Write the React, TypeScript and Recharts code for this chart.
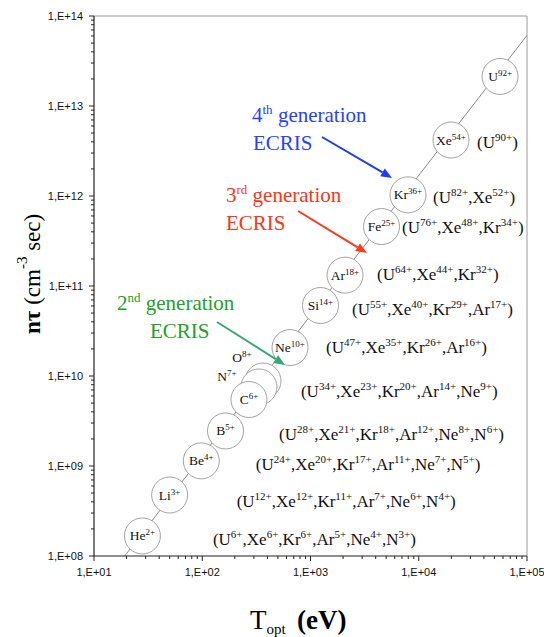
import React from 'react'
import { ComposedChart, XAxis, YAxis, Line, Scatter, ReferenceLine } from 'recharts'

// ─── Data ─────────────────────────────────────────────────────────────────────

const ionNames = ['He', 'Li', 'Be', 'B', 'O', 'N', 'C', 'Ne', 'Si', 'Ar', 'Fe', 'Kr', 'Xe', 'U']
const ionCharges = ['2+', '3+', '4+', '5+', '8+', '7+', '6+', '10+', '14+', '18+', '25+', '36+', '54+', '92+']
const ionTopt = [28, 50, 98, 164, 364, 334, 270, 647, 1237, 2084, 4529, 7955, 19860, 56360]
const ionNtau = [1.67e8, 4.76e8, 1.14e9, 2.45e9, 8.8e9, 7.55e9, 5.48e9, 2.07e10, 6.07e10, 1.32e11, 4.58e11, 1.03e12, 4.19e12, 2.13e13]

// equivalent charge states reachable at the same T_opt / n·tau
const ionEquivalents = [
  'U6+ Xe6+ Kr6+ Ar5+ Ne4+ N3+',
  'U12+ Xe12+ Kr11+ Ar7+ Ne6+ N4+',
  'U24+ Xe20+ Kr17+ Ar11+ Ne7+ N5+',
  'U28+ Xe21+ Kr18+ Ar12+ Ne8+ N6+',
  '',
  '',
  'U34+ Xe23+ Kr20+ Ar14+ Ne9+',
  'U47+ Xe35+ Kr26+ Ar16+',
  'U55+ Xe40+ Kr29+ Ar17+',
  'U64+ Xe44+ Kr32+',
  'U76+ Xe48+ Kr34+',
  'U82+ Xe52+',
  'U90+',
  '',
]

// straight n·tau ~ T^1.5 guide line
const guideTopt = [19.2, 1e5]
const guideNtau = [1e8, 6.1e13]

const xTickValues = [1e1, 1e2, 1e3, 1e4, 1e5]
const xTickLabels = ['1,E+01', '1,E+02', '1,E+03', '1,E+04', '1,E+05']
const yTickValues = [1e8, 1e9, 1e10, 1e11, 1e12, 1e13, 1e14]
const yTickLabels = ['1,E+08', '1,E+09', '1,E+10', '1,E+11', '1,E+12', '1,E+13', '1,E+14']

// ─── Layout (label placement, px) ─────────────────────────────────────────────

// [dx, dy] of the ion name relative to circle centre (O and N sit outside)
const ionLabelAt: Record<string, [number, number]> = {
  O: [-21, -19],
  N: [-32, -6],
}
// [dx, dy] of the equivalents list start/baseline relative to circle centre
const equivAt = [
  [70.5, 9], [67, 12], [54.5, 9], [53.5, 9], [0, 0], [0, 0], [52, -2.5],
  [36, 5.5], [31.5, 9.5], [32, 5], [20.5, 6.5], [25, 8], [26, 8], [0, 0],
]

const SERIF = '"Liberation Serif", "Times New Roman", Times, serif'
const SANS = '"Liberation Sans", Arial, sans-serif'

// ─── Helpers ──────────────────────────────────────────────────────────────────

const ionData = ionNames.map((ion, i) => ({
  ion,
  charge: ionCharges[i],
  T: ionTopt[i],
  nt: ionNtau[i],
  equiv: ionEquivalents[i]
    ? ionEquivalents[i].split(' ').map((s) => {
        const m = s.match(/^([A-Z][a-z]?)(\d+\+)$/)
        return m ? [m[1], m[2]] : [s, '']
      })
    : [],
  idx: i,
}))

const guideData = guideTopt.map((T, i) => ({ T, nt: guideNtau[i] }))

function withMinors(majors: number[]) {
  const out: number[] = []
  majors.forEach((d, i) => {
    out.push(d)
    if (i < majors.length - 1) for (let m = 2; m <= 9; m++) out.push(m * d)
  })
  return out
}

const xTicks = withMinors(xTickValues)
const yTicks = withMinors(yTickValues)

function majorLabel(v: number, values: number[], labels: string[]) {
  const i = values.findIndex((t) => Math.abs(t - v) / t < 1e-6)
  return i >= 0 ? labels[i] : null
}

// ─── Ticks ────────────────────────────────────────────────────────────────────

function XTick({ x, y, payload }: any) {
  const label = majorLabel(payload.value, xTickValues, xTickLabels)
  return (
    <g>
      <line x1={x} x2={x} y1={y} y2={y + (label ? 5 : 3)} stroke="#222" strokeWidth={1} />
      {label && (
        <text x={x} y={y + 20} textAnchor="middle" fontFamily={SANS} fontSize={11} fill="#111">
          {label}
        </text>
      )}
    </g>
  )
}

function YTick({ x, y, payload }: any) {
  const label = majorLabel(payload.value, yTickValues, yTickLabels)
  return (
    <g>
      <line x1={x - (label ? 5 : 3)} x2={x} y1={y} y2={y} stroke="#222" strokeWidth={1} />
      {label && (
        <text x={x - 11} y={y + 4} textAnchor="end" fontFamily={SANS} fontSize={11} fill="#111">
          {label}
        </text>
      )}
    </g>
  )
}

// ─── Ion circle ───────────────────────────────────────────────────────────────

function IonMark(props: any) {
  const { cx, cy, payload } = props
  if (cx == null || cy == null) return null
  const at = ionLabelAt[payload.ion] ?? [0, 4.5]
  const [ex, ey] = equivAt[payload.idx]
  const equiv: string[][] = payload.equiv
  return (
    <g>
      <circle cx={cx} cy={cy} r={18} fill="#fff" stroke="#8c8c8c" strokeWidth={0.8} />
      <text x={cx + at[0]} y={cy + at[1]} textAnchor="middle" fontFamily={SERIF} fontSize={13.5} fill="#111">
        {payload.ion}
        <tspan fontSize={9} dy={-5}>{payload.charge}</tspan>
      </text>
      {equiv.length > 0 && (
        <text x={cx + ex} y={cy + ey} fontFamily={SERIF} fontSize={17} fill="#111">
          {'('}
          {equiv.map(([el, q], i) => (
            <React.Fragment key={i}>
              <tspan dy={i === 0 ? 0 : 7}>{(i > 0 ? ',' : '') + el}</tspan>
              <tspan fontSize={11} dy={-7}>{q}</tspan>
            </React.Fragment>
          ))}
          <tspan dy={7}>)</tspan>
        </text>
      )}
    </g>
  )
}

// ─── Annotations (ECRIS generations) ──────────────────────────────────────────

const ecrisNotes = [
  { gen: '4', sup: 'th', color: '#2442ff', arrow: '#1d3cf2', tx: 252, ty: 122, ex: 253, from: [322, 137], to: [392, 178] },
  { gen: '3', sup: 'rd', color: '#ff3418', arrow: '#ff3a1a', tx: 226, ty: 202, ex: 226, from: [298, 211], to: [367, 253] },
  { gen: '2', sup: 'nd', color: '#22a02a', arrow: '#35a878', tx: 117, ty: 310, ex: 150, from: [217, 322], to: [285, 365] },
]

function Arrow({ from, to, color }: { from: number[]; to: number[]; color: string }) {
  const [x1, y1] = from
  const [x2, y2] = to
  const a = Math.atan2(y2 - y1, x2 - x1)
  const L = 11
  const W = 4.5
  const bx = x2 - L * Math.cos(a)
  const by = y2 - L * Math.sin(a)
  const px = -Math.sin(a) * W
  const py = Math.cos(a) * W
  return (
    <g>
      <line x1={x1} y1={y1} x2={bx} y2={by} stroke={color} strokeWidth={2} />
      <polygon points={`${x2},${y2} ${bx + px},${by + py} ${bx - px},${by - py}`} fill={color} />
    </g>
  )
}

function Overlay() {
  return (
    <svg width={544} height={637} style={{ position: 'absolute', left: 0, top: 0, pointerEvents: 'none' }}>
      {ecrisNotes.map((n) => (
        <g key={n.gen} style={{ fontFamily: SERIF }}>
          <text x={n.tx} y={n.ty} fontFamily={SERIF} fontSize={21} fill={n.color}>
            {n.gen}
            <tspan fontSize={13} dy={-8}>{n.sup}</tspan>
            <tspan dy={8}> generation</tspan>
          </text>
          <text x={n.ex} y={n.ty + 28} fontFamily={SERIF} fontSize={21} fill={n.color}>
            ECRIS
          </text>
          <Arrow from={n.from} to={n.to} color={n.arrow} />
        </g>
      ))}

      {/* x axis title */}
      <text x={250} y={629} fontFamily={SERIF} fontSize={27} fill="#000">
        T<tspan fontSize={15} dy={5}>opt</tspan>
      </text>
      <text x={297} y={629} fontFamily={SERIF} fontSize={27} fontWeight="bold" fill="#000">
        (eV)
      </text>

      {/* y axis title */}
      <text x={40} y={334} transform="rotate(-90, 40, 334)" fontFamily={SERIF} fontSize={23} fill="#000">
        <tspan fontWeight="bold">nτ</tspan>
        <tspan>{'   (cm'}</tspan>
        <tspan fontSize={15} dy={-13}>-3</tspan>
        <tspan dy={13}>{'  sec)'}</tspan>
      </text>
    </svg>
  )
}

// ─── App ──────────────────────────────────────────────────────────────────────

export default function App() {
  return (
    <div style={{ position: 'absolute', left: 0, top: 0, width: 544, height: 637, background: '#fff' }}>
      <ComposedChart width={544} height={637} margin={{ top: 16, right: 17, bottom: 0, left: 0 }}>
        <XAxis
          type="number"
          dataKey="T"
          scale="log"
          domain={[10, 1e5]}
          ticks={xTicks}
          interval={0}
          tickSize={0}
          tickMargin={0}
          tickLine={false}
          tick={<XTick />}
          axisLine={{ stroke: '#222', strokeWidth: 1.2 }}
          height={81}
          allowDataOverflow
        />
        <YAxis
          type="number"
          dataKey="nt"
          scale="log"
          domain={[1e8, 1e14]}
          ticks={yTicks}
          interval={0}
          tickSize={0}
          tickMargin={0}
          tickLine={false}
          tick={<YTick />}
          axisLine={{ stroke: '#222', strokeWidth: 1.2 }}
          width={94}
          allowDataOverflow
        />
        <ReferenceLine y={1e14} stroke="#9a9a9a" strokeWidth={1} />
        <ReferenceLine x={1e5} stroke="#9a9a9a" strokeWidth={1} />
        <Line
          data={guideData}
          dataKey="nt"
          stroke="#7a7a7a"
          strokeWidth={0.9}
          dot={false}
          isAnimationActive={false}
        />
        <Scatter data={ionData} dataKey="nt" shape={<IonMark />} isAnimationActive={false} />
      </ComposedChart>
      <Overlay />
    </div>
  )
}
